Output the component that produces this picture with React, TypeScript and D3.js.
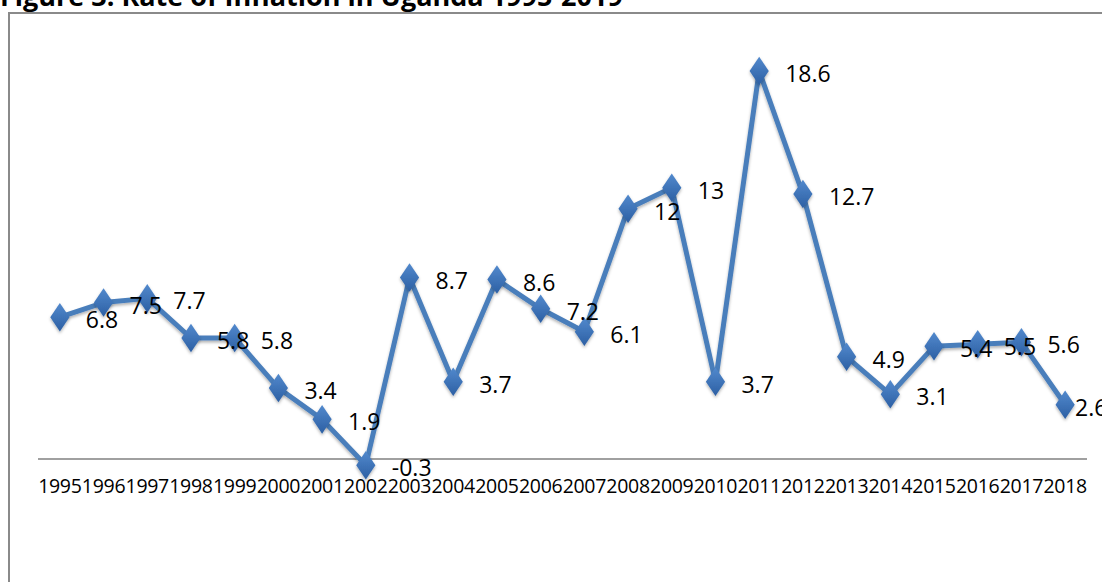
import React from "react";
import * as d3 from "d3";

const years: string[] = [
  "1995","1996","1997","1998","1999","2000","2001","2002","2003","2004","2005","2006",
  "2007","2008","2009","2010","2011","2012","2013","2014","2015","2016","2017","2018",
];
const inflation: number[] = [
  6.8, 7.5, 7.7, 5.8, 5.8, 3.4, 1.9, -0.3, 8.7, 3.7, 8.6, 7.2,
  6.1, 12, 13, 3.7, 18.6, 12.7, 4.9, 3.1, 5.4, 5.5, 5.6, 2.6,
];
const titleText = "Figure 3: Rate of Inflation in Uganda 1995-2019";

const W = 1102;
const H = 582;
const FONT = "'Open Sans', 'Liberation Sans', sans-serif";

export default function App() {
  const x = d3.scaleBand<string>().domain(years).range([38, 1087]).padding(0);
  const y = d3.scaleLinear().domain([-5, 20]).range([563.3, 41.8]);
  const cx = (i: number) => (x(years[i]) as number) + x.bandwidth() / 2;

  const line = d3
    .line<number>()
    .x((_, i) => cx(i))
    .y((d) => y(d));

  const diamond = d3.symbol().type(d3.symbolDiamond).size(290)();

  return (
    <div style={{ position: "absolute", left: 0, top: 0, width: W, height: H, background: "#fff" }}>
      <svg width={W} height={H} style={{ display: "block" }}>
        <defs>
          <linearGradient id="mk" x1="0" y1="0" x2="0" y2="1">
            <stop offset="0" stopColor="#5289cd" />
            <stop offset="1" stopColor="#2c5fa3" />
          </linearGradient>
          <filter id="sh" x="-50%" y="-50%" width="200%" height="200%">
            <feDropShadow dx="0" dy="2" stdDeviation="1.5" floodColor="#000" floodOpacity="0.3" />
          </filter>
        </defs>
        <rect x={0} y={0} width={W} height={H} fill="#fff" />
        <text x={0} y={6} fontFamily={FONT} fontWeight={700} fontSize={27} fill="#000">
          {titleText}
        </text>
        <path d={`M9,${H + 5} V13 H${W + 5}`} fill="none" stroke="#8a8a8a" strokeWidth={2} />

        {/* category axis at zero */}
        <line x1={38} x2={1087} y1={y(0)} y2={y(0)} stroke="#a0a0a0" strokeWidth={2} />
        {years.map((yr, i) => (
          <text
            key={yr}
            x={cx(i)}
            y={493}
            textAnchor="middle"
            fontFamily={FONT}
            fontSize={19.5}
            letterSpacing={-0.3}
            fill="#000"
          >
            {yr}
          </text>
        ))}

        <path
          d={line(inflation) as string}
          fill="none"
          stroke="#4a7ebb"
          strokeWidth={5}
          strokeLinejoin="round"
          filter="url(#sh)"
        />
        {inflation.map((v, i) => (
          <path
            key={"m" + i}
            d={diamond as string}
            transform={`translate(${cx(i)},${y(v)}) scale(1.05,0.9)`}
            fill="url(#mk)"
            filter="url(#sh)"
          />
        ))}
        {inflation.map((v, i) => (
          <text
            key={"l" + i}
            x={Math.min(cx(i) + 26, 1075)}
            y={y(v) + 11}
            fontFamily={FONT}
            fontSize={23}
            fill="#000"
          >
            {String(v)}
          </text>
        ))}
      </svg>
    </div>
  );
}
